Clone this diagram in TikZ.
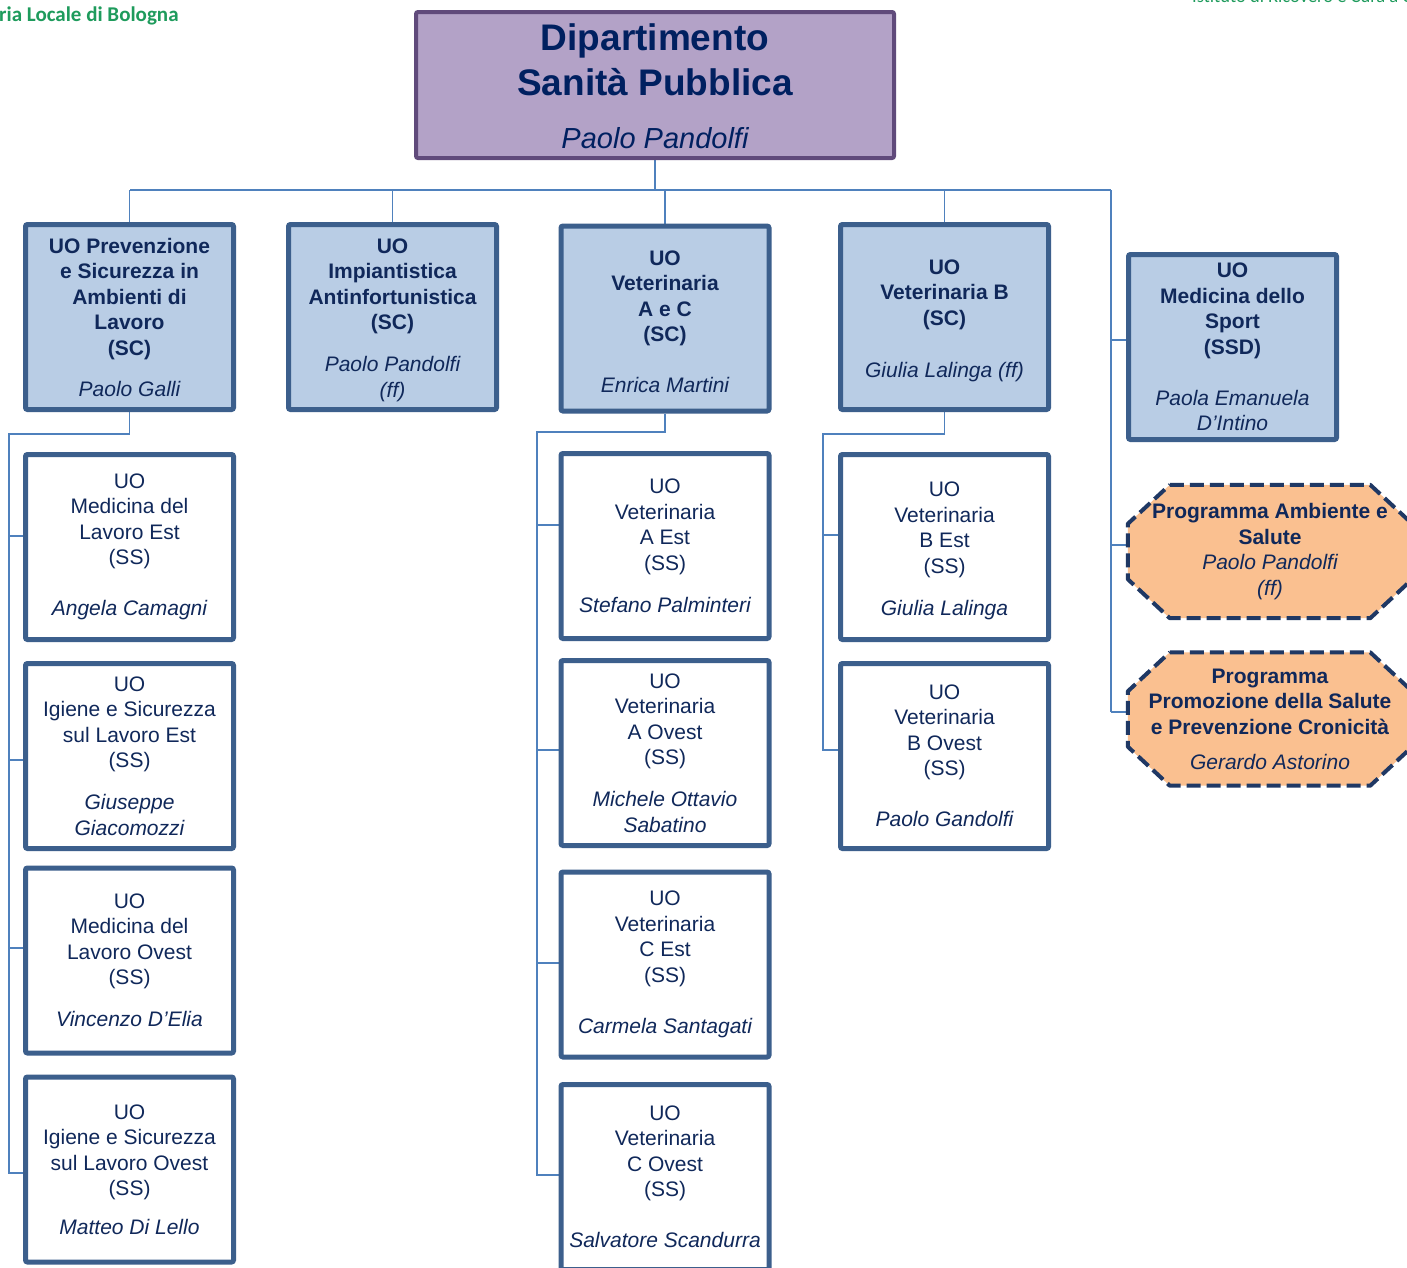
\documentclass[tikz,border=0pt]{standalone}
\usepackage{fontspec}
\setmainfont{Liberation Sans}
\newfontfamily\calib{Carlito}
\usetikzlibrary{backgrounds}
\definecolor{navy}{HTML}{10285A}
\definecolor{hdrnavy}{HTML}{002060}
\definecolor{hdrfill}{HTML}{B3A2C7}
\definecolor{hdrborder}{HTML}{604A7B}
\definecolor{topfill}{HTML}{B9CDE5}
\definecolor{boxborder}{HTML}{3C5F8C}
\definecolor{conncol}{HTML}{4F81BD}
\definecolor{octfill}{HTML}{FAC090}
\definecolor{octborder}{HTML}{1F3864}
\definecolor{asgreen}{HTML}{1E9B5C}
\newcommand\bl{\bfseries}
\newcommand\ii{\itshape}
\newcommand\up[1]{\rule{0pt}{#1}}
\tikzset{
  unitbox/.style={draw=boxborder, line width=5pt, rounded corners=2pt,
    minimum width=208pt, minimum height=185pt, inner sep=0pt, align=center,
    text=navy, font=\fontsize{21}{25.5}\selectfont},
  topbox/.style={unitbox, fill=topfill},
  subbox/.style={unitbox, fill=white},
  prog/.style={minimum width=284pt, minimum height=133pt,
    inner sep=0pt, align=center, text=navy, font=\fontsize{21}{25.5}\selectfont},
  progline/.style={draw=octborder, fill=octfill, line width=4pt,
    dash pattern=on 14pt off 6pt, line join=round},
  conn/.style={draw=conncol, line width=1.8pt},
}
\begin{document}
\begin{tikzpicture}[x=1pt,y=-1pt]
\useasboundingbox (0,0) rectangle (1407,1267);
\clip (0,0) rectangle (1407,1267);

% logos text
\node[font=\calib\bfseries\fontsize{21}{24}\selectfont, text=asgreen, anchor=west, inner sep=0pt] (aslogo) at (-1,16) {ria Locale di Bologna};
\node[font=\calib\fontsize{18.5}{22}\selectfont, text=asgreen, anchor=base west, inner sep=0pt] (irccs) at (1192,2) {Istituto di Ricovero e Cura a Carattere Scientifico};

% header
\node[draw=hdrborder, fill=hdrfill, line width=4pt, rounded corners=2pt,
      minimum width=478pt, minimum height=146pt, inner sep=0pt, align=center, text=hdrnavy,
      font=\fontsize{37}{45}\selectfont\bfseries]
  (hdr) at (655,85) {\up{30pt}Dipartimento\\Sanità Pubblica\\[8pt]\fontsize{29}{35}\selectfont\mdseries\itshape Paolo Pandolfi};

% level 1
\node[topbox] (b1) at (129.5,317) {\bl UO Prevenzione\\\bl e Sicurezza in\\\bl Ambienti di\\\bl Lavoro\\\bl (SC)\\[15.5pt]\ii Paolo Galli};
\node[topbox] (b2) at (392.5,317) {\bl\up{21pt}UO\\\bl Impiantistica\\\bl Antinfortunistica\\\bl (SC)\\[16.5pt]\ii Paolo Pandolfi\\\ii (ff)};
\node[topbox] (b3) at (665,318.5) {\bl\up{21pt}UO\\\bl Veterinaria\\\bl A e C\\\bl (SC)\\[25.5pt]\ii Enrica Martini};
\node[topbox] (b4) at (944.5,317) {\bl\up{22pt}UO\\\bl Veterinaria B\\\bl (SC)\\[26.5pt]\ii Giulia Lalinga (ff)};
\node[topbox] (b5) at (1232.5,347) {\bl UO\\\bl Medicina dello\\\bl Sport\\\bl (SSD)\\[25.5pt]\ii Paola Emanuela\\\ii D’Intino};

% left column
\node[subbox] (L1) at (129.5,547) {UO\\Medicina del\\Lavoro Est\\(SS)\\[25.5pt]\ii Angela Camagni};
\node[subbox] (L2) at (129.5,756) {UO\\Igiene e Sicurezza\\sul Lavoro Est\\(SS)\\[16.5pt]\ii Giuseppe\\\ii Giacomozzi};
\node[subbox] (L3) at (129.5,960.5) {UO\\Medicina del\\Lavoro Ovest\\(SS)\\[16.5pt]\ii Vincenzo D’Elia};
\node[subbox] (L4) at (129.5,1169.5) {UO\\Igiene e Sicurezza\\sul Lavoro Ovest\\(SS)\\[13.5pt]\ii Matteo Di Lello};

% middle column
\node[subbox] (M1) at (665,546) {UO\\Veterinaria\\A Est\\(SS)\\[16.5pt]\ii Stefano Palminteri};
\node[subbox] (M2) at (665,753) {UO\\Veterinaria\\A Ovest\\(SS)\\[16.5pt]\ii Michele Ottavio\\\ii Sabatino};
\node[subbox] (M3) at (665,964.5) {UO\\Veterinaria\\C Est\\(SS)\\[25.5pt]\ii Carmela Santagati};
\node[subbox] (M4) at (665,1177) {UO\\Veterinaria\\C Ovest\\(SS)\\[25.5pt]\ii Salvatore Scandurra};

% B column
\node[subbox] (B1) at (944.5,547) {\up{22pt}UO\\Veterinaria\\B Est\\(SS)\\[16.5pt]\ii Giulia Lalinga};
\node[subbox] (B2) at (944.5,756) {UO\\Veterinaria\\B Ovest\\(SS)\\[25.5pt]\ii Paolo Gandolfi};

% programmes
\node[prog] (o1) at (1270,551.5) {\bl Programma Ambiente e\\\bl Salute\\\ii Paolo Pandolfi\\\ii (ff)};
\node[prog] (o2) at (1270,719) {\bl Programma\\\bl Promozione della Salute\\\bl e Prevenzione Cronicità\\[9.5pt]\ii Gerardo Astorino};

% connectors and octagon outlines
\begin{pgfonlayer}{background}
\fill[white] (0,0) rectangle (1407,1267);
\coordinate (busL) at (130,190);
\coordinate (busR) at (1111,190);
\draw[conn] (busL) -- (busR);
\draw[conn] (hdr.south) -- (hdr.south |- busL);
\foreach \b in {b1,b2,b3,b4} \draw[conn] (\b.north) -- (\b.north |- busL);
\draw[conn] (busR) -- (1111,712);
\draw[conn] (1111,340) -- (b5.west |- 0,340);
\draw[conn] (1111,545) -- (o1.west |- 0,545);
\draw[conn] (1111,712) -- (o2.west |- 0,712);
% left
\draw[conn] (b1.south) -- (b1.south |- 0,434) -- (9,434) -- (9,1173) -- (L4.west |- 0,1173);
\foreach \n/\y in {L1/536,L2/760,L3/948} \draw[conn] (9,\y) -- (\n.west |- 0,\y);
% middle
\draw[conn] (b3.south) -- (b3.south |- 0,432) -- (537,432) -- (537,1175) -- (M4.west |- 0,1175);
\foreach \n/\y in {M1/525,M2/750,M3/963} \draw[conn] (537,\y) -- (\n.west |- 0,\y);
% B
\draw[conn] (b4.south) -- (b4.south |- 0,434) -- (823,434) -- (823,750) -- (B2.west |- 0,750);
\draw[conn] (823,535) -- (B1.west |- 0,535);
% octagons
\foreach \o in {o1,o2}
  \filldraw[progline] ([xshift=42pt]\o.north west) -- ([xshift=-42pt]\o.north east)
    -- ([yshift=-39pt]\o.north east) -- ([yshift=39pt]\o.south east)
    -- ([xshift=-42pt]\o.south east) -- ([xshift=42pt]\o.south west)
    -- ([yshift=39pt]\o.south west) -- ([yshift=-39pt]\o.north west) -- cycle;
\end{pgfonlayer}
\end{tikzpicture}
\end{document}
